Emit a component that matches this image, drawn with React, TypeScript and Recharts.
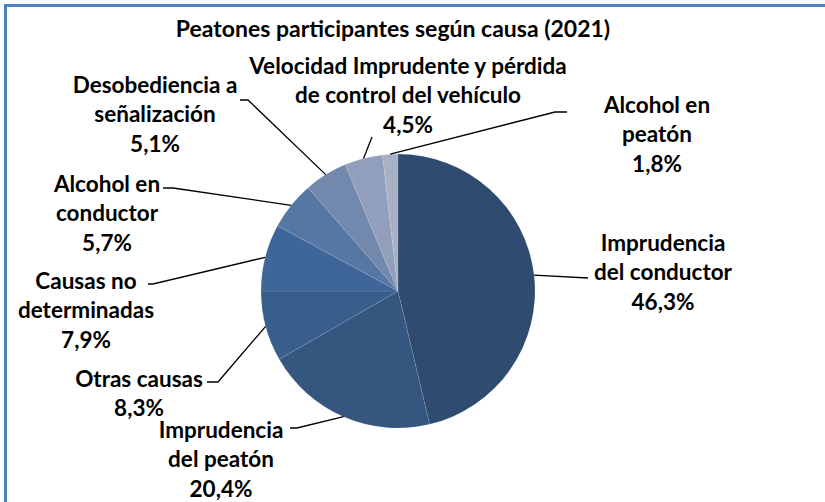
import React from "react";
import { PieChart, Pie, Cell } from "recharts";

// Peatones participantes según causa (2021), % del total
const causes = [
  "Imprudencia del conductor",
  "Imprudencia del peatón",
  "Otras causas",
  "Causas no determinadas",
  "Alcohol en conductor",
  "Desobediencia a señalización",
  "Velocidad Imprudente y pérdida de control del vehículo",
  "Alcohol en peatón",
];
const shares = [46.3, 20.4, 8.3, 7.9, 5.7, 5.1, 4.5, 1.8];
const labelLines = [
  ["Imprudencia", "del conductor"],
  ["Imprudencia", "del peatón"],
  ["Otras causas"],
  ["Causas no", "determinadas"],
  ["Alcohol en", "conductor"],
  ["Desobediencia a", "señalización"],
  ["Velocidad Imprudente y pérdida", "de control del vehículo"],
  ["Alcohol en", "peatón"],
];

const colors = ["#2f4b6f", "#34567f", "#385e8b", "#3e6699", "#5676a3", "#7388ad", "#919fbd", "#a9b1c7"];

const data = causes.map((name, i) => ({ name, value: shares[i] }));

// where Excel parked each label: elbow, line end, text centre x, first text line y
const layout = [
  { elbow: [588, 278], end: [588, 278], tx: 663, ty: 242 },
  { elbow: [297, 428], end: [290, 428], tx: 221, ty: 429 },
  { elbow: [218, 382], end: [207, 382], tx: 139, ty: 378 },
  { elbow: [153, 284], end: [148, 284], tx: 86, ty: 280 },
  { elbow: [173, 188], end: [163, 188], tx: 107, ty: 183 },
  { elbow: [248, 100], end: [240, 100], tx: 155, ty: 84 },
  { elbow: [372, 137], end: [372, 137], tx: 408, ty: 65 },
  { elbow: [555, 112], end: [567, 112], tx: 657, ty: 104 },
];

const FONT = "Lato, 'Open Sans', sans-serif";
const RAD = Math.PI / 180;

const renderLabel = (props: any) => {
  const { cx, cy, midAngle, outerRadius, index } = props;
  const sx = cx + outerRadius * Math.cos(-midAngle * RAD);
  const sy = cy + outerRadius * Math.sin(-midAngle * RAD);
  const l = layout[index];
  const lines = [...labelLines[index], shares[index].toFixed(1).replace(".", ",") + "%"];
  return (
    <g key={"lbl" + index}>
      <polyline
        points={`${sx},${sy} ${l.elbow[0]},${l.elbow[1]} ${l.end[0]},${l.end[1]}`}
        fill="none"
        stroke="#000"
        strokeWidth={1.3}
      />
      {lines.map((t, j) => (
        <text
          key={j}
          x={l.tx}
          y={l.ty + j * 29.5}
          textAnchor="middle"
          dominantBaseline="central"
          fontFamily={FONT}
          fontWeight={700}
          fontSize={22.5}
          fill="#000"
        >
          {t}
        </text>
      ))}
    </g>
  );
};

export default function App() {
  return (
    <div
      style={{
        position: "fixed",
        left: 0,
        top: 0,
        width: 825,
        height: 502,
        background: "#fff",
        overflow: "hidden",
      }}
    >
      <div
        style={{
          position: "absolute",
          left: 4,
          top: 4,
          width: 840,
          height: 520,
          borderTop: "3px solid #4f81bd",
          borderLeft: "3px solid #4f81bd",
        }}
      />
      <div
        style={{
          position: "absolute",
          left: 0,
          width: 786,
          top: 15,
          textAlign: "center",
          fontFamily: FONT,
          fontWeight: 700,
          fontSize: 23,
          lineHeight: "26px",
          color: "#000",
        }}
      >
        Peatones participantes según causa (2021)
      </div>
      <div style={{ position: "absolute", left: 0, top: 0 }}>
        <PieChart width={825} height={502} margin={{ top: 0, right: 0, bottom: 0, left: 0 }}>
          <Pie
            data={data}
            dataKey="value"
            nameKey="name"
            cx={398}
            cy={291}
            outerRadius={137}
            startAngle={90}
            endAngle={-270}
            stroke="rgba(255,255,255,0.12)"
            strokeWidth={0.8}
            label={renderLabel}
            labelLine={false}
            isAnimationActive={false}
          >
            {data.map((d, i) => (
              <Cell key={d.name} fill={colors[i]} />
            ))}
          </Pie>
        </PieChart>
      </div>
    </div>
  );
}
